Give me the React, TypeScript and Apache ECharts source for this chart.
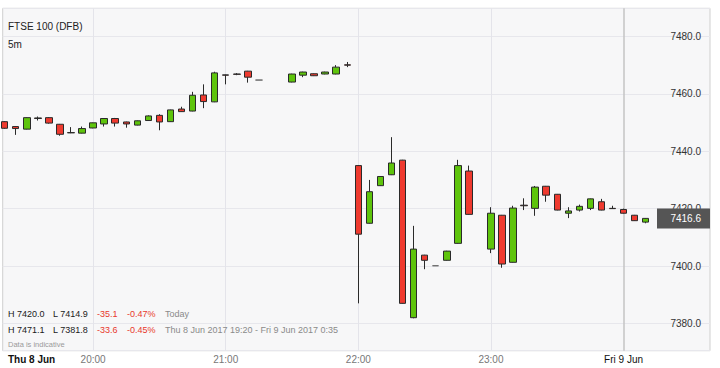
import React, { useEffect, useRef } from 'react';
import * as echarts from 'echarts';

const times = [
  '19:20', '19:25', '19:30', '19:35', '19:40', '19:45', '19:50', '19:55',
  '20:00', '20:05', '20:10', '20:15', '20:20', '20:25', '20:30', '20:35', '20:40', '20:45', '20:50', '20:55',
  '21:00', '21:05', '21:10', '21:15', '21:30', '21:35', '21:40', '21:45', '21:50', '21:55',
  '22:00', '22:05', '22:10', '22:15', '22:20', '22:25', '22:30', '22:35', '22:40', '22:45', '22:50',
  '23:00', '23:05', '23:10', '23:15', '23:20', '23:25', '23:30', '23:35', '23:40', '23:45', '23:50', '23:55',
  '00:00', '00:05', '00:10',
];
const opens = [
  7450.3, 7448.6, 7447.7, 7451.6, 7451.7, 7449.4, 7446.5, 7446.3,
  7448.1, 7449.5, 7451.4, 7450.2, 7449.1, 7450.7, 7452.5, 7450.3, 7454.7, 7454.0, 7459.6, 7457.2,
  7466.6, 7466.9, 7467.9, 7464.8, 7464.1, 7466.5, 7467.0, 7466.9, 7466.9, 7470.1,
  7435.0, 7414.9, 7428.0, 7431.8, 7436.9, 7382.0, 7403.8, 7400.1, 7402.0, 7407.9, 7433.1,
  7405.9, 7417.7, 7401.3, 7421.2, 7420.1, 7427.8, 7425.0, 7418.4, 7419.5, 7420.1, 7422.4, 7420.1,
  7419.7, 7417.7, 7415.3,
];
const closes = [
  7448.0, 7447.9, 7451.7, 7451.4, 7449.8, 7445.9, 7446.4, 7447.9,
  7449.9, 7451.4, 7449.8, 7449.5, 7450.6, 7452.3, 7450.2, 7454.4, 7453.8, 7459.5, 7457.3, 7467.3,
  7466.5, 7466.8, 7465.8, 7464.8, 7466.9, 7467.6, 7466.3, 7467.6, 7469.3, 7470.0,
  7411.1, 7425.9, 7431.2, 7435.9, 7387.0, 7405.9, 7402.0, 7400.1, 7405.2, 7435.0, 7418.0,
  7418.4, 7400.7, 7420.2, 7421.0, 7427.5, 7424.7, 7419.5, 7419.2, 7420.8, 7423.4, 7419.5, 7420.0,
  7418.4, 7415.8, 7416.6,
];
const lows = [
  7447.8, 7445.7, 7447.6, 7450.7, 7449.6, 7445.4, 7446.3, 7446.2,
  7448.0, 7448.6, 7448.6, 7448.2, 7449.0, 7450.6, 7447.3, 7450.2, 7453.7, 7453.9, 7455.0, 7457.1,
  7463.3, 7466.5, 7463.9, 7464.8, 7464.0, 7465.8, 7466.2, 7466.8, 7466.8, 7469.3,
  7387.0, 7414.8, 7427.9, 7431.7, 7386.9, 7381.8, 7398.9, 7400.1, 7401.9, 7407.8, 7417.9,
  7404.5, 7399.4, 7401.2, 7419.5, 7417.5, 7422.4, 7419.4, 7416.7, 7419.0, 7419.5, 7419.4, 7419.9,
  7418.3, 7415.7, 7414.9,
];
const highs = [
  7450.5, 7448.7, 7451.8, 7452.1, 7451.9, 7449.5, 7448.4, 7448.6,
  7450.0, 7451.5, 7451.6, 7450.3, 7450.7, 7452.5, 7452.9, 7454.5, 7455.5, 7460.7, 7463.3, 7467.7,
  7466.7, 7467.2, 7468.0, 7464.8, 7467.0, 7467.7, 7467.1, 7467.7, 7470.0, 7471.1,
  7435.2, 7430.0, 7431.3, 7444.9, 7437.0, 7414.0, 7403.9, 7400.1, 7405.3, 7437.0, 7435.0,
  7420.5, 7417.8, 7421.0, 7423.6, 7427.9, 7427.9, 7425.1, 7420.5, 7421.4, 7423.5, 7423.4, 7421.0,
  7420.0, 7417.8, 7416.7,
];

const hourMarks = ['20:00', '21:00', '22:00', '23:00', '00:00'];
const hourLabels = ['20:00', '21:00', '22:00', '23:00', 'Fri 9 Jun'];
const startLabel = 'Thu 8 Jun';
const titleText = 'FTSE 100 (DFB)';
const periodText = '5m';
const lastPrice = 7416.6;
const todayRow = ['H 7420.0', 'L 7414.9', '-35.1', '-0.47%', 'Today'];
const rangeRow = ['H 7471.1', 'L 7381.8', '-33.6', '-0.45%', 'Thu 8 Jun 2017 19:20 - Fri 9 Jun 2017 0:35'];
const noteText = 'Data is indicative';

const FONT = "'Liberation Sans', Arial, sans-serif";

// minutes since Thu 00:00 (times after midnight belong to Fri)
const toMin = (t: string) => {
  const [h, m] = t.split(':').map(Number);
  return (h < 12 ? h + 24 : h) * 60 + m;
};

export default function App() {
  const ref = useRef<HTMLDivElement>(null);
  useEffect(() => {
    if (!ref.current) return;
    const chart = echarts.init(ref.current, undefined, { renderer: 'svg' });
    const data = times.map((t, i) => [toMin(t), opens[i], closes[i], lows[i], highs[i]]);
    const hourMins = hourMarks.map(toMin);
    const rowColors = ['#1a1a1a', '#1a1a1a', '#e8382c', '#e8382c', '#8a8a8a'];
    const rowX = [8, 53, 97, 127, 165];
    const rowText = (row: string[], y: number) =>
      row.map((s, i) => ({
        type: 'text',
        x: rowX[i],
        y,
        z: 10,
        style: { text: s, fill: rowColors[i], fontSize: 9, fontFamily: FONT, verticalAlign: 'middle' },
      }));

    const baseGraphics: any[] = [
      { type: 'text', x: 8, y: 26, z: 10, style: { text: titleText, fill: '#222', fontSize: 10, fontFamily: FONT, verticalAlign: 'middle' } },
      { type: 'text', x: 8, y: 44, z: 10, style: { text: periodText, fill: '#222', fontSize: 10, fontFamily: FONT, verticalAlign: 'middle' } },
      ...rowText(todayRow, 314),
      ...rowText(rangeRow, 330),
      { type: 'text', x: 8, y: 344, z: 10, style: { text: noteText, fill: '#9a9a9a', fontSize: 7.5, fontFamily: FONT, verticalAlign: 'middle' } },
      { type: 'text', x: 8, y: 359.5, z: 10, style: { text: startLabel, fill: '#111', fontSize: 10, fontWeight: 'bold', fontFamily: FONT, verticalAlign: 'middle' } },
    ];

    chart.setOption({
      animation: false,
      backgroundColor: '#ffffff',
      textStyle: { fontFamily: FONT },
      grid: {
        left: 2.7, right: 10, top: 8.3, bottom: 17.3,
        show: true, backgroundColor: '#f7f7f8', borderColor: '#cfcfcf', borderWidth: 1,
      },
      xAxis: {
        type: 'value',
        min: 1159.1,
        max: 1479.1,
        axisLine: { show: false },
        axisTick: { show: false },
        splitLine: { show: false },
        axisLabel: {
          customValues: hourMins,
          margin: 4,
          fontSize: 10,
          color: '#777',
          fontFamily: FONT,
          formatter: (v: number) => {
            const i = hourMins.indexOf(Math.round(v));
            if (i < 0) return '';
            return i === hourMins.length - 1 ? '{b|' + hourLabels[i] + '}' : hourLabels[i];
          },
          rich: { b: { fontSize: 10, fontWeight: 500, color: '#111', fontFamily: FONT } },
        },
      },
      yAxis: {
        type: 'value',
        position: 'right',
        min: 7370.5,
        max: 7489.8,
        axisLine: { show: false },
        axisTick: { show: false },
        splitLine: { show: true, lineStyle: { color: '#e7e7ec', width: 1 } },
        axisLabel: {
          inside: true,
          margin: 9,
          fontSize: 10,
          color: '#333',
          fontFamily: FONT,
          showMinLabel: false,
          showMaxLabel: false,
          formatter: (v: number) => (Math.abs(v % 20) < 1e-6 ? v.toFixed(1) : ''),
        },
      },
      series: [
        {
          type: 'line',
          data: [],
          z: 1,
          silent: true,
          markLine: {
            silent: true,
            z: 1,
            symbol: ['none', 'none'],
            label: { show: false },
            data: hourMins.map((m, i) => ({
              xAxis: m,
              lineStyle: { color: i === hourMins.length - 1 ? '#c4c4c4' : '#e4e4ea', width: i === hourMins.length - 1 ? 1.5 : 1, type: 'solid' },
            })),
          },
        },
        {
          type: 'candlestick',
          z: 3,
          data,
          encode: { x: 0, y: [1, 2, 3, 4] },
          barWidth: 7,
          clip: true,
          itemStyle: {
            color: '#5ec40c',
            color0: '#ef3a2f',
            borderColor: '#2a2a2a',
            borderColor0: '#2a2a2a',
            borderColorDoji: '#6a6a6a',
            borderWidth: 1,
          },
        },
      ],
      graphic: baseGraphics,
    });

    const py = chart.convertToPixel({ yAxisIndex: 0 }, lastPrice) as number;
    chart.setOption({
      graphic: [
        ...baseGraphics,
        { type: 'rect', z: 20, shape: { x: 657, y: py - 10, width: 53, height: 20 }, style: { fill: '#555555' } },
        { type: 'text', z: 21, x: 701, y: py, style: { text: lastPrice.toFixed(1), fill: '#ffffff', fontSize: 10, fontFamily: FONT, align: 'right', verticalAlign: 'middle' } },
      ],
    });

    return () => chart.dispose();
  }, []);
  return <div ref={ref} style={{ position: 'fixed', left: 0, top: 0, width: 720, height: 368 }} />;
}
